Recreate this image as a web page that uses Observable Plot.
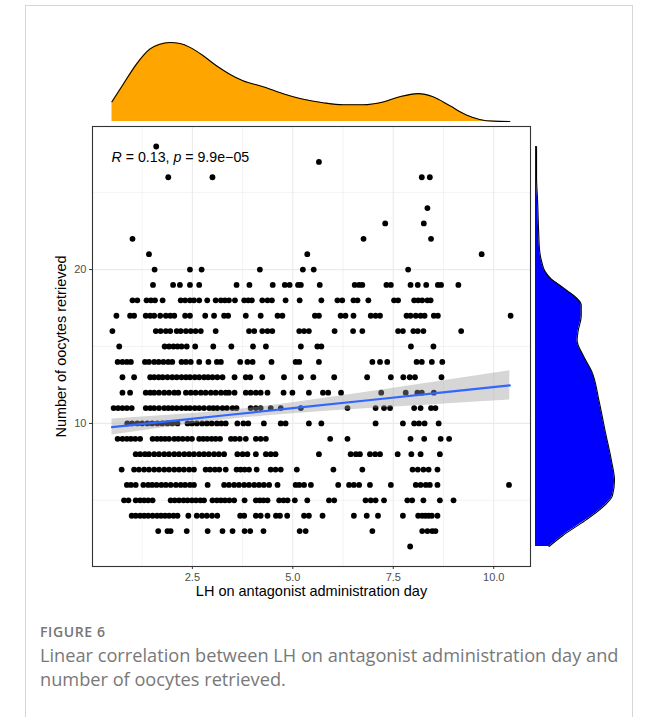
<!DOCTYPE html>
<html>
<head>
<meta charset="utf-8">
<script src="https://cdn.jsdelivr.net/npm/d3@7"></script>
<script src="https://cdn.jsdelivr.net/npm/@observablehq/plot@0.6"></script>
<style>
  html, body { margin: 0; padding: 0; background: #ffffff; }
  #wrap { position: relative; width: 658px; height: 717px; overflow: hidden; background: #fff; }
  #card { position: absolute; left: 25px; top: 5px; width: 608px; height: 760px; border: 1px solid #d6d6d6; box-sizing: border-box; }
  .abs { position: absolute; }
  #fig { left: 40px; top: 622px; font: 600 14px "Open Sans", sans-serif; color: #767676; letter-spacing: 0.6px; }
  #cap { left: 40px; top: 643px; width: 610px; font: 400 18.2px/24px "Open Sans", sans-serif; color: #787878; }
</style>
</head>
<body>
<div id="wrap">
  <div id="card"></div>
  <div id="top" class="abs" style="left:40px;top:30px;"></div>
  <div id="main" class="abs" style="left:40px;top:120px;"></div>
  <div id="right" class="abs" style="left:530px;top:120px;"></div>
  <div id="fig" class="abs">FIGURE 6</div>
  <div id="cap" class="abs">Linear correlation between LH on antagonist administration day and number of oocytes retrieved.</div>
</div>
<script>
// ---- Data: LH value (x) of each patient, grouped by number of oocytes retrieved (y) ----
const oocyteCounts = [2,3,4,5,6,7,8,9,10,11,12,13,14,15,16,17,18,19,20,21,22,23,24,26,27,28];
const lh2  = [7.92];
const lh3  = [1.65,1.88,1.96,2.36,2.88,3.25,3.50,3.80,3.94,4.27,5.17,5.32,6.98,8.22,8.35,8.47,8.55];
const lh4  = [0.99,1.09,1.20,1.30,1.40,1.51,1.62,1.72,1.82,1.92,2.03,2.13,2.40,2.61,2.74,2.86,2.99,3.12,3.69,3.79,4.08,4.20,4.37,4.58,4.68,4.86,5.28,5.40,5.74,6.52,6.84,7.12,7.74,8.12,8.22,8.30,8.38,8.46,8.60];
const lh5  = [0.80,0.91,1.09,1.20,1.30,1.40,1.51,1.96,2.06,2.17,2.28,2.38,2.49,2.59,2.70,2.79,3.00,3.11,3.21,3.31,3.42,3.54,3.80,4.08,4.18,4.27,4.37,4.66,4.77,4.87,5.05,5.36,5.90,6.03,6.81,6.94,7.06,7.27,7.85,7.97,8.25,8.66,9.00];
const lh6  = [0.87,0.97,1.09,1.28,1.40,1.50,1.61,1.73,1.84,1.96,2.09,2.21,2.32,2.44,2.54,2.88,3.29,3.41,3.54,3.66,3.79,3.91,4.04,4.16,4.28,4.41,4.62,5.07,5.16,5.28,5.45,6.13,6.40,6.52,6.65,6.92,7.44,8.06,8.18,8.31,8.41,8.60,10.38];
const lh7  = [0.74,1.05,1.17,1.30,1.42,1.55,1.67,1.80,1.92,2.05,2.17,2.29,2.42,2.54,2.83,2.94,3.06,3.17,3.33,3.60,3.70,3.80,3.91,4.10,4.45,4.57,4.70,5.10,6.01,6.73,7.98,8.11,8.25,8.38,8.60];
const lh8  = [1.09,1.20,1.32,1.42,1.55,1.67,1.80,1.92,2.05,2.17,2.30,2.42,2.54,2.67,2.79,2.91,3.04,3.16,3.29,3.62,3.75,3.87,4.08,4.33,4.45,4.57,5.65,6.44,6.57,6.67,6.92,7.05,7.17,7.61,7.95,8.18,8.66];
const lh9  = [0.64,0.76,0.87,0.97,1.08,1.20,1.51,1.62,1.72,1.82,1.92,2.05,2.15,2.26,2.38,2.49,2.67,2.77,2.87,2.98,3.08,3.19,3.46,3.56,3.68,3.83,4.08,4.20,4.33,5.93,6.36,7.93,8.27,8.68,8.89];
const lh10 = [0.88,1.00,1.13,1.25,1.38,1.50,1.63,1.75,1.88,2.00,2.13,2.38,2.49,2.61,2.74,2.86,2.98,3.11,3.22,3.33,3.62,3.77,3.89,4.28,4.70,4.82,5.40,5.71,7.06,7.74,8.02,8.14,8.28,8.63];
const lh11 = [0.54,0.65,0.76,0.87,0.99,1.34,1.45,1.55,1.67,1.80,1.90,2.00,2.11,2.23,2.34,2.44,2.56,2.67,2.79,2.92,3.02,3.12,3.25,3.36,3.50,3.60,3.95,4.08,4.20,4.45,4.70,5.20,6.36,7.06,7.27,7.42,8.02,8.18,8.44,8.55];
const lh12 = [0.76,0.95,1.34,1.45,1.55,1.67,1.80,1.92,2.05,2.15,2.34,2.46,2.58,2.71,2.83,2.96,3.08,3.21,3.33,3.41,3.55,3.83,3.95,4.08,4.20,4.37,4.77,4.99,5.40,5.75,5.88,6.20,7.20,7.81,8.10,8.21,8.51];
const lh13 = [0.76,1.05,1.45,1.55,1.66,1.76,1.88,2.00,2.11,2.23,2.34,2.44,2.56,2.67,2.79,2.89,3.00,3.12,3.25,3.55,3.83,3.94,4.24,4.78,5.20,5.51,6.03,6.85,7.44,7.75,7.91,8.04,8.70];
const lh14 = [0.64,0.76,0.87,0.97,1.32,1.42,1.55,1.66,1.78,1.90,2.00,2.23,2.34,2.46,2.67,2.90,3.11,3.21,3.69,3.87,4.00,4.47,5.07,5.16,5.65,6.98,7.17,7.35,8.08,8.21,8.46,8.72];
const lh15 = [0.68,1.81,1.92,2.03,2.13,2.23,2.36,2.57,3.02,3.47,4.01,4.33,5.20,5.61,5.71,7.94,8.50];
const lh16 = [0.51,1.59,1.71,1.84,1.95,2.11,2.21,2.34,2.46,2.58,2.71,3.08,3.91,4.04,4.24,4.37,4.49,5.16,5.28,5.40,6.04,6.50,6.73,7.62,7.74,8.00,8.11,8.25,9.19];
const lh17 = [0.61,0.95,1.05,1.34,1.45,1.55,1.70,1.84,1.95,2.05,2.32,2.44,2.82,3.04,3.29,3.39,3.83,4.20,4.62,4.74,5.55,5.65,6.19,6.31,6.51,6.94,7.06,7.17,7.83,7.93,8.06,8.18,8.28,8.51,8.61,10.42];
const lh18 = [1.01,1.13,1.36,1.47,1.57,1.76,2.21,2.32,2.44,2.54,2.67,2.87,3.08,3.21,3.31,3.41,3.56,3.79,3.89,3.98,4.24,4.37,4.48,4.82,5.17,5.71,6.11,6.23,6.51,6.61,6.88,7.52,7.62,8.02,8.12,8.22,8.35,8.43];
const lh19 = [1.52,2.02,2.19,2.44,2.67,3.60,3.92,4.50,4.80,4.92,5.13,5.20,5.67,6.54,6.65,6.73,7.33,7.44,7.93,8.11,8.32,8.61,8.69,9.12];
const lh20 = [1.56,2.44,2.73,4.18,5.25,5.52,7.87];
const lh21 = [1.42,5.36,9.70];
const lh22 = [1.01,6.76,8.44];
const lh23 = [7.30,8.26];
const lh24 = [8.35];
const lh26 = [1.90,3.00,8.21,8.41];
const lh27 = [5.65];
const lh28 = [1.60];
const lhByCount = [lh2,lh3,lh4,lh5,lh6,lh7,lh8,lh9,lh10,lh11,lh12,lh13,lh14,lh15,lh16,lh17,lh18,lh19,lh20,lh21,lh22,lh23,lh24,lh26,lh27,lh28];

// ---- fitted regression line and 95% band ----
const fitLH   = [0.5, 2.0, 3.5, 5.0, 7.0, 8.5, 10.4];
const fitY    = [9.76, 10.17, 10.58, 10.99, 11.54, 11.95, 12.47];
const fitLow  = [9.24, 9.80, 10.28, 10.63, 10.99, 11.22, 11.52];
const fitHigh = [10.28, 10.54, 10.88, 11.35, 12.09, 12.68, 13.42];

// ---- marginal densities ----
const topLH      = [0.50,0.78,1.11,1.44,1.69,1.94,2.19,2.44,2.77,3.10,3.43,3.76,4.26,4.76,5.26,5.75,6.25,6.75,7.25,7.66,8.12,8.49,8.91,9.32,9.65,9.98,10.40];
const topDensity = [0.057,0.107,0.165,0.208,0.222,0.227,0.224,0.213,0.189,0.160,0.136,0.117,0.100,0.080,0.064,0.054,0.048,0.048,0.056,0.071,0.080,0.071,0.045,0.019,0.006,0.001,0.000];
const rightOocytes = [28.0,26.0,24.5,22.5,21.2,20.5,19.9,19.4,19.0,18.6,18.3,17.7,17.0,16.0,15.4,14.4,13.4,11.5,9.5,7.6,6.3,5.3,4.7,3.7,2.7,2.0];
const rightDensity = [0.001,0.001,0.002,0.003,0.004,0.006,0.009,0.015,0.023,0.031,0.037,0.044,0.044,0.041,0.040,0.046,0.054,0.061,0.067,0.073,0.076,0.074,0.067,0.048,0.026,0.013];

const xTicks = [2.5, 5.0, 7.5, 10.0];
const xMinor = [1.25, 3.75, 6.25, 8.75];
const yTicks = [10, 20];
const yMinor = [5, 15, 25];
const corLabel = "R = 0.13, p = 9.9e\u221205";
const xTitle = "LH on antagonist administration day";
const yTitle = "Number of oocytes retrieved";

// ---- build tables ----
const points = [];
oocyteCounts.forEach((c, i) => lhByCount[i].forEach(v => points.push({lh: v, oocytes: c})));
const fit = fitLH.map((x, i) => ({lh: x, y: fitY[i], lo: fitLow[i], hi: fitHigh[i]}));
const topDens = topLH.map((x, i) => ({v: x, d: topDensity[i]}));
const rightDens = rightOocytes.map((y, i) => ({v: y, d: rightDensity[i]}));

const expand = ([a, b]) => [a - 0.05 * (b - a), b + 0.05 * (b - a)];
const xDomain = expand(d3.extent(points, d => d.lh));
const yDomain = expand(d3.extent(points, d => d.oocytes));

const font = "'Liberation Sans', Arial, sans-serif";

const mainPlot = Plot.plot({
  width: 495, height: 485,
  marginLeft: 52, marginRight: 5, marginTop: 6, marginBottom: 39,
  style: {fontFamily: font, fontSize: "11px", color: "#4d4d4d", background: "transparent", overflow: "visible"},
  x: {domain: xDomain},
  y: {domain: yDomain},
  marks: [
    Plot.gridX(xMinor, {stroke: "#ebebeb", strokeOpacity: 1, strokeWidth: 0.6}),
    Plot.gridY(yMinor, {stroke: "#ebebeb", strokeOpacity: 1, strokeWidth: 0.6}),
    Plot.gridX(xTicks, {stroke: "#ebebeb", strokeOpacity: 1, strokeWidth: 1.1}),
    Plot.gridY(yTicks, {stroke: "#ebebeb", strokeOpacity: 1, strokeWidth: 1.1}),
    Plot.dot(points, {x: "lh", y: "oocytes", r: 2.9, fill: "#000", stroke: "none"}),
    Plot.areaY(fit, {x: "lh", y1: "lo", y2: "hi", fill: "#999999", fillOpacity: 0.4, curve: "monotone-x"}),
    Plot.lineY(fit, {x: "lh", y: "y", stroke: "#3366FF", strokeWidth: 2.2}),
    Plot.frame({stroke: "#333333", strokeWidth: 1.1}),
    Plot.axisX(xTicks, {tickFormat: d => d.toFixed(1), tickSize: 3, tickPadding: 4, label: null, stroke: "#333", fill: "#4d4d4d", fontSize: 11}),
    Plot.axisY(yTicks, {tickSize: 3, tickPadding: 3, label: null, stroke: "#333", fill: "#4d4d4d", fontSize: 11}),
    Plot.text([xTitle], {frameAnchor: "bottom", dy: 29, fontSize: 14.5, fill: "#000", text: d => d}),
    Plot.text([yTitle], {frameAnchor: "left", textAnchor: "middle", dx: -31, rotate: -90, fontSize: 14.5, fill: "#000", text: d => d}),
    Plot.text([corLabel], {frameAnchor: "top-left", dx: 19, dy: 25, fontSize: 14.2, fill: "#000", textAnchor: "start", text: d => d})
  ]
});

// italicise R and p in the correlation label
d3.select(mainPlot).selectAll("text").each(function() {
  if (this.textContent === corLabel) {
    const t = d3.select(this);
    t.text(null);
    t.append("tspan").attr("font-style", "italic").text("R");
    t.append("tspan").text(" = 0.13, ");
    t.append("tspan").attr("font-style", "italic").text("p");
    t.append("tspan").text(" = 9.9e\u221205");
  }
});
document.getElementById("main").appendChild(mainPlot);

const topPlot = Plot.plot({
  width: 495, height: 95,
  marginLeft: 52, marginRight: 5, marginTop: 12, marginBottom: 4,
  style: {background: "transparent", overflow: "visible"},
  x: {domain: xDomain, axis: null},
  y: {domain: [0, d3.max(topDensity)], axis: null},
  marks: [
    Plot.areaY(topDens, {x: "v", y: "d", fill: "#FFA500", curve: "monotone-x"}),
    Plot.lineY(topDens, {x: "v", y: "d", stroke: "#000", strokeWidth: 1.1, curve: "monotone-x"})
  ]
});
document.getElementById("top").appendChild(topPlot);

const rightPlot = Plot.plot({
  width: 100, height: 446,
  marginLeft: 5, marginRight: 16, marginTop: 6, marginBottom: 0,
  style: {background: "transparent", overflow: "visible"},
  y: {domain: yDomain, axis: null},
  x: {domain: [0, d3.max(rightDensity)], axis: null},
  marks: [
    Plot.areaX(rightDens, {y: "v", x: "d", fill: "#0000FF", curve: "monotone-y"}),
    Plot.lineX(rightDens, {y: "v", x: "d", stroke: "#000", strokeWidth: 1.1, curve: "monotone-y"})
  ]
});
document.getElementById("right").appendChild(rightPlot);
</script>
</body>
</html>
